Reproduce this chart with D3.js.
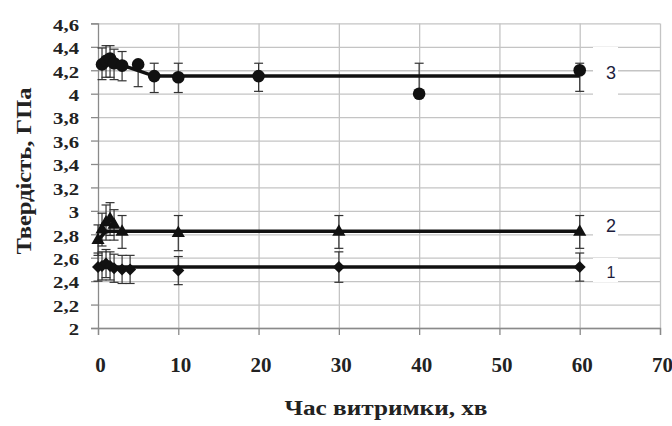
<!DOCTYPE html>
<html>
<head>
<meta charset="utf-8">
<script src="https://cdn.jsdelivr.net/npm/d3@7"></script>
<style>
    body { margin: 0; background: #fff; }
    svg { display: block; }
    .serif { font-family: "Tinos"; font-weight: bold; }
</style>
</head>
<body>
<svg id="chart" width="672" height="426"></svg>
<script>
// Series 1 (diamonds)
const x1 = [0, 0.5, 1, 1.5, 2, 3, 4, 10, 30, 60];
const y1 = [2.52, 2.53, 2.55, 2.53, 2.51, 2.5, 2.5, 2.49, 2.52, 2.52];
const e1 = [0.12, 0.12, 0.12, 0.12, 0.12, 0.12, 0.12, 0.12, 0.13, 0.12];

// Series 2 (triangles)
const x2 = [0, 0.5, 1, 1.5, 2, 3, 10, 30, 60];
const y2 = [2.75, 2.84, 2.9, 2.93, 2.88, 2.82, 2.81, 2.82, 2.82];
const e2 = [0.13, 0.14, 0.15, 0.14, 0.13, 0.14, 0.15, 0.14, 0.14];

// Series 3 (circles), asymmetric errors
const x3 = [0.5, 1, 1.5, 2, 3, 5, 7, 10, 20, 40, 60];
const y3 = [4.25, 4.28, 4.30, 4.26, 4.24, 4.25, 4.15, 4.14, 4.15, 4.0, 4.2];
const e3Up = [0.14, 0.13, 0.11, 0.12, 0.12, 0.0, 0.11, 0.12, 0.11, 0.26, 0.06];
const e3Down = [0.13, 0.14, 0.16, 0.14, 0.13, 0.19, 0.14, 0.13, 0.13, 0.0, 0.18];

// trend lines
const fit1X = [0, 60], fit1Y = [2.52, 2.52];
const fit2X = [0, 1, 60], fit2Y = [2.75, 2.825, 2.825];
const fit3X = [0.5, 2, 4, 7, 60], fit3Y = [4.27, 4.26, 4.22, 4.15, 4.15];

const seriesLabels = ["1", "2", "3"];
const xTicks = [0, 10, 20, 30, 40, 50, 60, 70];
const yTicks = [2, 2.2, 2.4, 2.6, 2.8, 3, 3.2, 3.4, 3.6, 3.8, 4, 4.2, 4.4, 4.6];

const svg = d3.select("#chart");

const x = d3.scaleLinear().domain([0, 70]).range([98, 660]);
const y = d3.scaleLinear().domain([2, 4.6]).range([328, 23.4]);

const fmt = d => String(+d.toFixed(1)).replace(".", ",");

// gridlines
svg.append("g")
    .attr("transform", "translate(98,0)")
    .call(d3.axisLeft(y).tickValues(yTicks).tickSize(-(660 - 98)).tickFormat(""))
    .call(g => g.select(".domain").remove())
    .call(g => g.selectAll("line").attr("stroke", "#c4c4c4").attr("stroke-width", 1.3));
svg.append("g")
    .attr("transform", "translate(0,328)")
    .call(d3.axisBottom(x).tickValues(xTicks.slice(1)).tickSize(-(328 - 23.4)).tickFormat(""))
    .call(g => g.select(".domain").remove())
    .call(g => g.selectAll("line").attr("stroke", "#c4c4c4").attr("stroke-width", 1.3));

// white boxes behind series labels
const labelY = [272, 226, 73];
seriesLabels.forEach((s, i) => {
    svg.append("rect")
        .attr("x", 593).attr("y", labelY[i] - (i == 2 ? 26 : 14))
        .attr("width", 25).attr("height", i == 2 ? 48 : 24)
        .attr("fill", "#fff");
});

// axes
const yAxis = svg.append("g")
    .attr("transform", "translate(98,0)")
    .call(d3.axisLeft(y).tickValues(yTicks).tickSize(7).tickFormat(fmt));
yAxis.attr("font-family", null).attr("font-size", null);
yAxis.select(".domain").attr("stroke", "#8a8a8a").attr("stroke-width", 1.3);
yAxis.selectAll("line").attr("stroke", "#8a8a8a").attr("stroke-width", 1.3);
yAxis.selectAll("text")
    .attr("class", "serif")
    .attr("x", -19 / 1.22)
    .attr("dy", "0.4em")
    .attr("transform", "scale(1.22,1)")
    .style("font-size", "17px")
    .attr("fill", "#222");

const xAxis = svg.append("g")
    .attr("transform", "translate(0,328)")
    .call(d3.axisBottom(x).tickValues(xTicks).tickSize(7).tickFormat(d => d));
xAxis.attr("font-family", null).attr("font-size", null);
xAxis.select(".domain").attr("stroke", "#8a8a8a").attr("stroke-width", 1.3);
xAxis.selectAll("line").attr("stroke", "#8a8a8a").attr("stroke-width", 1.3);
xAxis.selectAll("text")
    .attr("class", "serif")
    .attr("y", 44)
    .attr("dy", 0)
    .attr("dx", 2)
    .style("font-size", "21px")
    .attr("fill", "#222");

// axis titles
svg.append("text")
    .attr("class", "serif")
    .attr("x", 386).attr("y", 415)
    .attr("text-anchor", "middle")
    .style("font-size", "20px")
    .attr("fill", "#222")
    .attr("textLength", 203)
    .attr("lengthAdjust", "spacingAndGlyphs")
    .text("Час витримки, хв");

svg.append("text")
    .attr("class", "serif")
    .attr("transform", "translate(31,171) rotate(-90)")
    .attr("text-anchor", "middle")
    .style("font-size", "21px")
    .attr("fill", "#222")
    .attr("textLength", 167)
    .attr("lengthAdjust", "spacingAndGlyphs")
    .text("Твердість, ГПа");

// error bars
function errorBars(xs, ys, up, down) {
    const g = svg.append("g").attr("stroke", "#333").attr("stroke-width", 1.2).attr("fill", "none");
    xs.forEach((xv, i) => {
        const cx = x(xv);
        const top = y(ys[i] + up[i]), bot = y(ys[i] - down[i]);
        g.append("line").attr("x1", cx).attr("x2", cx).attr("y1", top).attr("y2", bot);
        if (up[i] > 0) g.append("line").attr("x1", cx - 4.5).attr("x2", cx + 4.5).attr("y1", top).attr("y2", top);
        if (down[i] > 0) g.append("line").attr("x1", cx - 4.5).attr("x2", cx + 4.5).attr("y1", bot).attr("y2", bot);
    });
}
errorBars(x1, y1, e1, e1);
errorBars(x2, y2, e2, e2);
errorBars(x3, y3, e3Up, e3Down);

// trend lines
const line = d3.line().x(d => x(d[0])).y(d => y(d[1]));
[[fit1X, fit1Y], [fit2X, fit2Y], [fit3X, fit3Y]].forEach(f => {
    svg.append("path")
        .datum(f[0].map((v, i) => [v, f[1][i]]))
        .attr("d", line)
        .attr("fill", "none")
        .attr("stroke", "#111")
        .attr("stroke-width", 3.5);
});

// markers
function markers(xs, ys, type, size, rot) {
    svg.append("g").selectAll("path")
        .data(xs.map((v, i) => [v, ys[i]]))
        .enter().append("path")
        .attr("d", d3.symbol().type(type).size(size))
        .attr("transform", d => "translate(" + x(d[0]) + "," + y(d[1]) + ") rotate(" + (rot || 0) + ")")
        .attr("fill", "#111");
}
markers(x1, y1, d3.symbolSquare, 72, 45);
markers(x2, y2, d3.symbolTriangle, 75);
markers(x3, y3, d3.symbolCircle, 125);

// series labels
seriesLabels.forEach((s, i) => {
    svg.append("text")
        .attr("x", 611).attr("y", labelY[i] + 6)
        .attr("text-anchor", "middle")
        .style("font-family", "'Liberation Sans', Arial, sans-serif")
        .style("font-size", i == 0 ? "16px" : "18px")
        .attr("fill", "#1c1c3c")
        .text(s);
});
</script>
</body>
</html>
